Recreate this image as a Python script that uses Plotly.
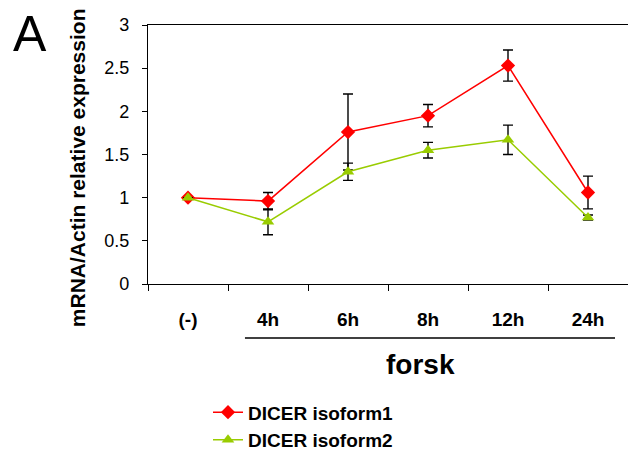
import plotly.graph_objects as go

categories = ["(-)", "4h", "6h", "8h", "12h", "24h"]
iso1 = [1.00, 0.96, 1.76, 1.95, 2.53, 1.06]
iso1_err = [0.0, 0.10, 0.44, 0.13, 0.18, 0.19]
iso2 = [1.00, 0.72, 1.30, 1.55, 1.67, 0.77]
iso2_err = [0.0, 0.15, 0.10, 0.09, 0.17, 0.03]
y_ticks = [0, 0.5, 1, 1.5, 2, 2.5, 3]
y_tick_labels = ["0", "0.5", "1", "1.5", "2", "2.5", "3"]

fig = go.Figure()
fig.add_trace(go.Scatter(
    x=categories, y=iso1, name="<b>DICER isoform1</b>", mode="lines+markers",
    line=dict(color="#FF0000", width=1.5),
    marker=dict(symbol="diamond", size=11, color="#FF0000"),
    error_y=dict(type="data", array=iso1_err, color="black", thickness=1.4, width=5),
))
fig.add_trace(go.Scatter(
    x=categories, y=iso2, name="<b>DICER isoform2</b>", mode="lines+markers",
    line=dict(color="#99CC00", width=1.5),
    marker=dict(symbol="triangle-up", size=11, color="#99CC00"),
    error_y=dict(type="data", array=iso2_err, color="black", thickness=1.4, width=5),
))

fig.update_layout(
    width=628, height=458,
    margin=dict(l=148, r=0, t=25, b=174, autoexpand=False),
    plot_bgcolor="white", paper_bgcolor="white",
    font=dict(family="Arial, Liberation Sans", color="black"),
    showlegend=True,
    legend=dict(x=0.125, xanchor="left", y=-0.422, yanchor="top",
                font=dict(size=19, color="black"), tracegroupgap=0,
                bgcolor="rgba(0,0,0,0)"),
    xaxis=dict(
        type="category", range=[-0.5, 5.5],
        tickmode="array", tickvals=categories,
        ticktext=["<b>" + c + "</b>" for c in categories],
        tickson="boundaries", ticks="outside", ticklen=6, tickwidth=1.3,
        tickcolor="black", showline=True, linecolor="black", linewidth=1.3,
        mirror=True, showgrid=False, zeroline=False,
        tickfont=dict(size=19, color="black"), ticklabelstandoff=18,
    ),
    yaxis=dict(
        range=[0, 3], tickmode="array", tickvals=y_ticks, ticktext=y_tick_labels,
        ticks="outside", ticklen=5, tickwidth=1.3, tickcolor="black",
        showline=True, linecolor="black", linewidth=1.3,
        showgrid=False, zeroline=False,
        tickfont=dict(size=18, color="black"), ticklabelstandoff=9,
    ),
)

fig.add_annotation(text="<b>mRNA/Actin relative expression</b>", textangle=-90,
                   xref="paper", yref="paper", x=-0.148, y=0.451,
                   xanchor="center", yanchor="middle", showarrow=False,
                   font=dict(size=21, color="black"))
fig.add_shape(type="line", xref="paper", yref="paper",
              x0=0.202, x1=0.973, y0=-0.2085, y1=-0.2085,
              line=dict(color="black", width=1.5))
fig.add_annotation(text="<b>forsk</b>", xref="paper", yref="paper",
                   x=0.567, y=-0.31, xanchor="center", yanchor="middle",
                   showarrow=False, font=dict(size=28, color="black"))
fig.add_annotation(text="A", xref="paper", yref="paper",
                   x=-0.246, y=0.967, xanchor="center", yanchor="middle",
                   showarrow=False, font=dict(size=50, color="black"))

fig.write_html("out.html")
